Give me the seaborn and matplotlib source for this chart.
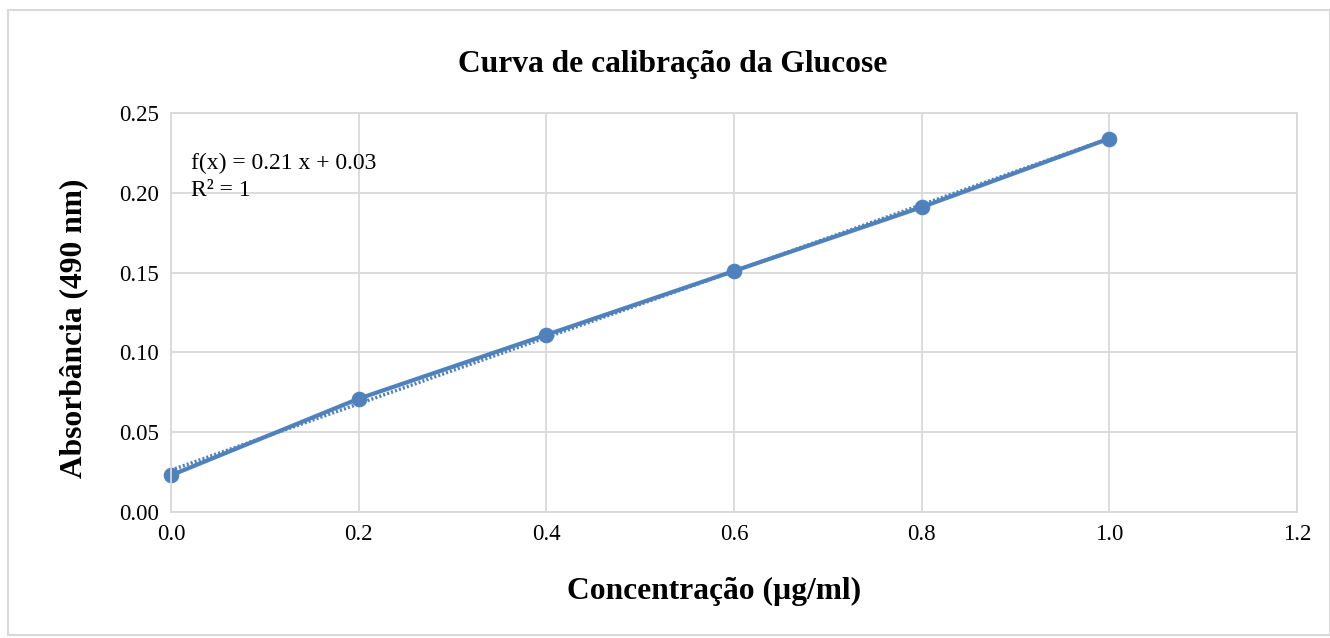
import numpy as np
import pandas as pd
import matplotlib
matplotlib.use("Agg")
import matplotlib.pyplot as plt
import seaborn as sns
from matplotlib.patches import Rectangle

# valores
concentracao = [0.0, 0.2, 0.4, 0.6, 0.8, 1.0]
absorbancia = [0.023, 0.071, 0.111, 0.151, 0.191, 0.234]
x_ticks = [0.0, 0.2, 0.4, 0.6, 0.8, 1.0, 1.2]
y_ticks = [0.00, 0.05, 0.10, 0.15, 0.20, 0.25]

df = pd.DataFrame({"conc": concentracao, "abs": absorbancia})

sns.set_style("white")
plt.rcParams['font.family'] = ['Liberation Serif', 'DejaVu Serif']
plt.rcParams['text.color'] = 'black'
plt.rcParams['axes.labelcolor'] = 'black'
plt.rcParams['xtick.color'] = 'black'
plt.rcParams['ytick.color'] = 'black'

cor = "#4f81bd"
fig, ax = plt.subplots(figsize=(13.3, 6.38), dpi=100)
fig.subplots_adjust(left=0.1286, right=0.9752, top=0.8229, bottom=0.1975)

# linha de tendência (pontilhada)
sns.regplot(data=df, x="conc", y="abs", ax=ax, scatter=False, ci=None,
            line_kws=dict(color=cor, lw=2.5, ls=(0, (0.6, 0.6))))
sns.lineplot(data=df, x="conc", y="abs", ax=ax, color=cor, lw=3,
             marker="o", markersize=10.5, markeredgecolor=cor, clip_on=False)

ax.set_xlim(0, 1.2)
ax.set_ylim(0, 0.25)
ax.set_xticks(x_ticks)
ax.set_xticklabels([f"{v:.1f}" for v in x_ticks])
ax.set_yticks(y_ticks)
ax.set_yticklabels([f"{v:.2f}" for v in y_ticks])
ax.tick_params(labelsize=16.5, length=0, pad=9)
ax.grid(True, color="#d9d9d9", lw=1.3)
for s in ax.spines.values():
    s.set_color("#d9d9d9")
    s.set_linewidth(1.3)

fig.suptitle("Curva de calibração da Glucose", fontsize=22.7, fontweight="bold",
             x=0.506, y=0.922)
ax.set_xlabel("Concentração (µg/ml)", fontsize=22.7, fontweight="bold")
ax.xaxis.set_label_coords(0.482, -0.163)
ax.set_ylabel("Absorbância (490 nm)", fontsize=22.7, fontweight="bold")
ax.yaxis.set_label_coords(-0.0735, 0.46)

ax.text(0.018, 0.90, "f(x) = 0.21 x + 0.03\nR² = 1", transform=ax.transAxes,
        fontsize=17, va="top", ha="left", linespacing=1.35)

fig.patches.append(Rectangle((0.006, 0.005), 0.994, 0.98, transform=fig.transFigure,
                             fill=False, edgecolor="#d9d9d9", lw=1.5))

fig.savefig("out.png", dpi=100)
